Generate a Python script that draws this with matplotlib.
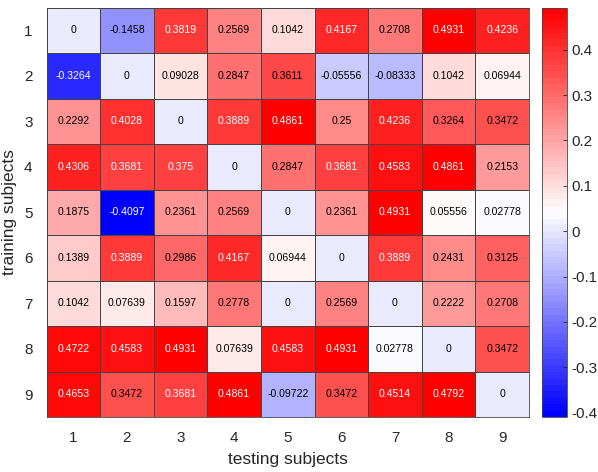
import numpy as np
import matplotlib
matplotlib.use('Agg')
import matplotlib.pyplot as plt
from matplotlib.colors import LinearSegmentedColormap, ListedColormap

plt.rcParams['font.family'] = ['Liberation Sans', 'DejaVu Sans']

# subjects used for training (rows) and testing (columns)
train_subjects = ['1', '2', '3', '4', '5', '6', '7', '8', '9']
test_subjects = ['1', '2', '3', '4', '5', '6', '7', '8', '9']

row1 = [0, -0.1458, 0.3819, 0.2569, 0.1042, 0.4167, 0.2708, 0.4931, 0.4236]
row2 = [-0.3264, 0, 0.09028, 0.2847, 0.3611, -0.05556, -0.08333, 0.1042, 0.06944]
row3 = [0.2292, 0.4028, 0, 0.3889, 0.4861, 0.25, 0.4236, 0.3264, 0.3472]
row4 = [0.4306, 0.3681, 0.375, 0, 0.2847, 0.3681, 0.4583, 0.4861, 0.2153]
row5 = [0.1875, -0.4097, 0.2361, 0.2569, 0, 0.2361, 0.4931, 0.05556, 0.02778]
row6 = [0.1389, 0.3889, 0.2986, 0.4167, 0.06944, 0, 0.3889, 0.2431, 0.3125]
row7 = [0.1042, 0.07639, 0.1597, 0.2778, 0, 0.2569, 0, 0.2222, 0.2708]
row8 = [0.4722, 0.4583, 0.4931, 0.07639, 0.4583, 0.4931, 0.02778, 0, 0.3472]
row9 = [0.4653, 0.3472, 0.3681, 0.4861, -0.09722, 0.3472, 0.4514, 0.4792, 0]

labels = ['0', '-0.1458', '0.3819', '0.2569', '0.1042', '0.4167', '0.2708', '0.4931', '0.4236',
          '-0.3264', '0', '0.09028', '0.2847', '0.3611', '-0.05556', '-0.08333', '0.1042', '0.06944',
          '0.2292', '0.4028', '0', '0.3889', '0.4861', '0.25', '0.4236', '0.3264', '0.3472',
          '0.4306', '0.3681', '0.375', '0', '0.2847', '0.3681', '0.4583', '0.4861', '0.2153',
          '0.1875', '-0.4097', '0.2361', '0.2569', '0', '0.2361', '0.4931', '0.05556', '0.02778',
          '0.1389', '0.3889', '0.2986', '0.4167', '0.06944', '0', '0.3889', '0.2431', '0.3125',
          '0.1042', '0.07639', '0.1597', '0.2778', '0', '0.2569', '0', '0.2222', '0.2708',
          '0.4722', '0.4583', '0.4931', '0.07639', '0.4583', '0.4931', '0.02778', '0', '0.3472',
          '0.4653', '0.3472', '0.3681', '0.4861', '-0.09722', '0.3472', '0.4514', '0.4792', '0']

data = np.array([row1, row2, row3, row4, row5, row6, row7, row8, row9])

# blue - white - red, 64 steps like matlab
base = LinearSegmentedColormap.from_list('bwr2', [(0, 0, 1), (1, 1, 1), (1, 0, 0)])
cmap = ListedColormap(base(np.linspace(0, 1, 64)))

fig = plt.figure(figsize=(5.98, 4.72), dpi=100)
ax = fig.add_axes([46.5/598, 1-417/472, 482.5/598, 409.5/472])
cax = fig.add_axes([542/598, 1-417/472, 25/598, 409.5/472])

vmin, vmax = data.min(), data.max()
mesh = ax.pcolormesh(data, cmap=cmap, vmin=vmin, vmax=vmax,
                     edgecolor='#444444', linewidth=0.5)
ax.set_xlim(0, 9)
ax.set_ylim(9, 0)

for i in range(9):
    for j in range(9):
        v = data[i, j]
        c = 'white' if (v > 0.365 or v < -0.3) else 'black'
        ax.text(j + 0.5, i + 0.5, labels[i*9 + j], ha='center', va='center',
                fontsize=7.6, color=c)

ax.set_xticks(np.arange(9) + 0.5)
ax.set_xticklabels(test_subjects)
ax.set_yticks(np.arange(9) + 0.5)
ax.set_yticklabels(train_subjects)
ax.tick_params(length=0, labelsize=11, pad=10, colors='#262626')
for s in ax.spines.values():
    s.set_color('#444444')
    s.set_linewidth(0.6)
ax.set_xlabel('testing subjects', fontsize=12.5, color='#262626', labelpad=5)
ax.set_ylabel('training subjects', fontsize=12.5, color='#262626', labelpad=5)

cb = fig.colorbar(mesh, cax=cax)
cb.set_ticks([-0.4, -0.3, -0.2, -0.1, 0, 0.1, 0.2, 0.3, 0.4])
cb.set_ticklabels(['-0.4', '-0.3', '-0.2', '-0.1', '0', '0.1', '0.2', '0.3', '0.4'])
cb.ax.tick_params(direction='in', length=3, width=0.6, labelsize=11, colors='#262626')
cb.outline.set_edgecolor('#444444')
cb.outline.set_linewidth(0.6)

fig.savefig('out.png', dpi=100)
